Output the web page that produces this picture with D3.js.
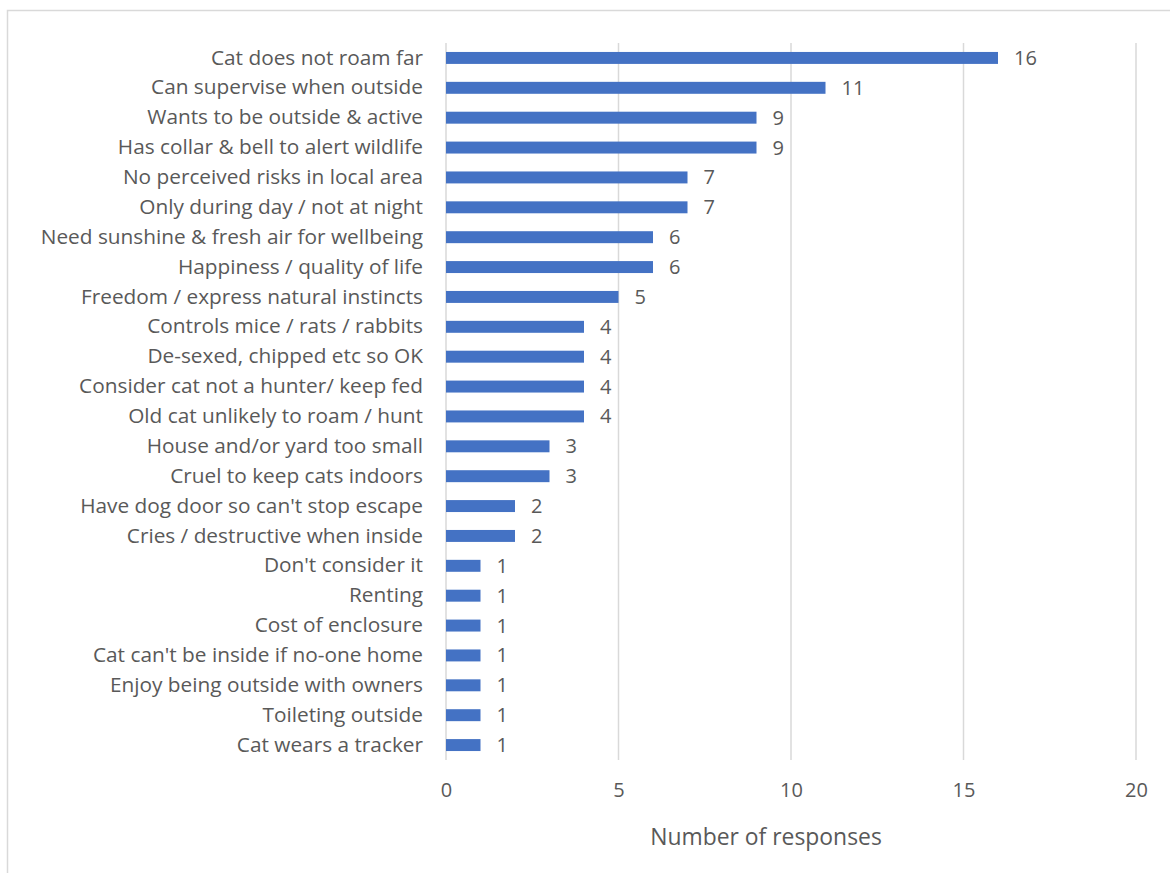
<!DOCTYPE html>
<html>
<head>
<meta charset="utf-8">
<script src="https://cdn.jsdelivr.net/npm/d3@7"></script>
<style>
  html, body { margin: 0; padding: 0; background: #fff; }
  svg text { font-family: "Open Sans", Lato, sans-serif; fill: #595959; }
</style>
</head>
<body>
<svg id="chart" width="1170" height="873"></svg>
<script>
// Reasons given for letting the cat outside
const categories = [
  "Cat does not roam far",
  "Can supervise when outside",
  "Wants to be outside & active",
  "Has collar & bell to alert wildlife",
  "No perceived risks in local area",
  "Only during day / not at night",
  "Need sunshine & fresh air for wellbeing",
  "Happiness / quality of life",
  "Freedom / express natural instincts",
  "Controls mice / rats / rabbits",
  "De-sexed, chipped etc so OK",
  "Consider cat not a hunter/ keep fed",
  "Old cat unlikely to roam / hunt",
  "House and/or yard too small",
  "Cruel to keep cats indoors",
  "Have dog door so can't stop escape",
  "Cries / destructive when inside",
  "Don't consider it",
  "Renting",
  "Cost of enclosure",
  "Cat can't be inside if no-one home",
  "Enjoy being outside with owners",
  "Toileting outside",
  "Cat wears a tracker"
];
const responses = [16, 11, 9, 9, 7, 7, 6, 6, 5, 4, 4, 4, 4, 3, 3, 2, 2, 1, 1, 1, 1, 1, 1, 1];
const xTicks = [0, 5, 10, 15, 20];
const axisTitle = "Number of responses";

const svg = d3.select("#chart");
const margin = { left: 446, right: 34, top: 43, bottom: 113 };
const W = 1170, H = 873;

// outer frame
svg.append("rect")
  .attr("x", 7.5).attr("y", 10.5)
  .attr("width", 1170).attr("height", 880)
  .attr("fill", "none").attr("stroke", "#d9d9d9").attr("stroke-width", 1.5);

const x = d3.scaleLinear().domain([0, 20]).range([margin.left, W - margin.right]);
const y = d3.scaleBand().domain(categories).range([margin.top, H - margin.bottom]).paddingInner(0.6).paddingOuter(0.3);

// vertical gridlines
svg.append("g").selectAll("line").data(xTicks).join("line")
  .attr("x1", d => x(d)).attr("x2", d => x(d))
  .attr("y1", margin.top).attr("y2", H - margin.bottom)
  .attr("stroke", "#d9d9d9").attr("stroke-width", 1.5);

// tick labels
const xAxis = d3.axisBottom(x).tickValues(xTicks).tickSize(0).tickPadding(0);
const gx = svg.append("g").attr("transform", `translate(0, ${H - margin.bottom})`).call(xAxis);
gx.select(".domain").remove();
gx.selectAll("text").attr("dy", null).attr("y", 37).style("font-size", "20px").attr("fill", "#595959");

// category labels
const yAxis = d3.axisLeft(y).tickSize(0).tickPadding(23);
const gy = svg.append("g").attr("transform", `translate(${margin.left}, 0)`).call(yAxis);
gy.select(".domain").remove();
gy.selectAll("text").style("font-size", "20.8px").attr("fill", "#595959");

// bars
svg.append("g").selectAll("rect").data(responses).join("rect")
  .attr("x", x(0))
  .attr("y", (d, i) => y(categories[i]))
  .attr("width", d => x(d) - x(0))
  .attr("height", y.bandwidth())
  .attr("fill", "#4472C4");

// value labels
svg.append("g").selectAll("text").data(responses).join("text")
  .attr("x", d => x(d) + 16)
  .attr("y", (d, i) => y(categories[i]) + y.bandwidth() / 2)
  .attr("dy", "0.35em")
  .style("font-size", "20px")
  .text(d => d);

// axis title
svg.append("text")
  .attr("x", 766).attr("y", 845)
  .attr("text-anchor", "middle")
  .style("font-size", "22.9px")
  .text(axisTitle);
</script>
</body>
</html>
